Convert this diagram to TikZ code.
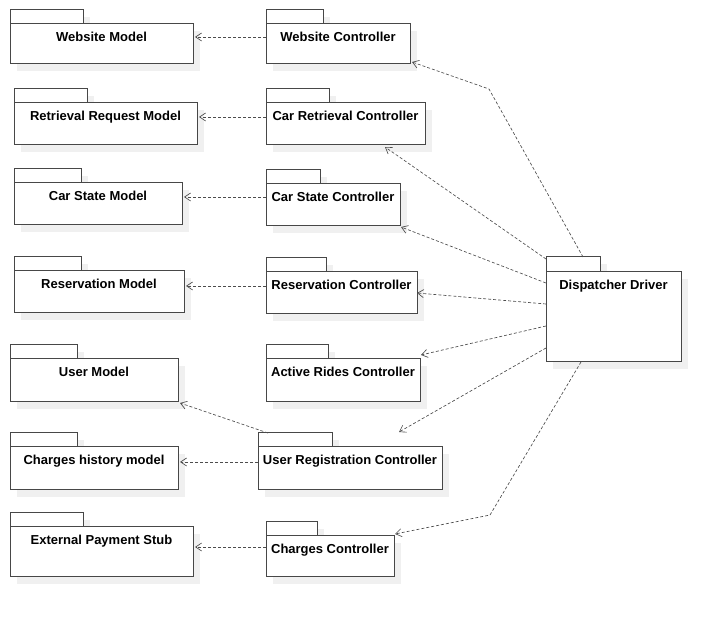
\documentclass[tikz,border=0pt]{standalone}
\usepackage{fontspec}
\setmainfont{Liberation Sans}
\usetikzlibrary{arrows.meta}
\tikzset{
  pkgshadow/.style={fill=black!6},
  pkgbox/.style={draw=black!72, line width=1pt, fill=white, inner sep=0pt, outer sep=0pt},
  pkglabel/.style={anchor=base, inner sep=0pt, font=\fontsize{13}{15}\selectfont\bfseries},
  dep/.style={draw=black!70, line width=0.65pt, dash pattern=on 3pt off 2pt,
     -{Straight Barb[length=6pt,width=8pt,line width=0.65pt]}},
}
% #1 name, #2 left, #3 tab top, #4 tab right, #5 body top, #6 body right, #7 body bottom, #8 text
\newcommand\pkgdraw[8]{%
  \fill[pkgshadow] (#2+7,#3+7) rectangle (#4+7,#5+7);
  \fill[pkgshadow] (#2+7,#5+7) rectangle (#6+7,#7+7);
  \node[pkgbox, minimum width={#4-#2}, minimum height={#5-#3}] (#1-t) at ({(#2+#4)/2},{(#3+#5)/2}) {};
  \node[pkgbox, minimum width={#6-#2}, minimum height={#7-#5}] (#1) at ({(#2+#6)/2},{(#5+#7)/2}) {};
  \node[pkglabel] (#1-l) at ([yshift=-18pt]#1.north) {#8};
}
\begin{document}
\begin{tikzpicture}[x=1pt,y=-1pt]
\useasboundingbox[fill=white] (0,0) rectangle (721,617);
\pkgdraw{wm}{10}{10}{83}{24}{193}{64}{Website Model}
\pkgdraw{wc}{266}{10}{323}{24}{410}{64}{Website Controller}
\pkgdraw{rrm}{14}{89}{87}{103}{197}{145}{Retrieval Request Model}
\pkgdraw{crc}{266}{89}{329}{103}{425}{145}{Car Retrieval Controller}
\pkgdraw{csm}{14}{169}{81}{183}{182}{225}{Car State Model}
\pkgdraw{csc}{266}{170}{320}{184}{400}{226}{Car State Controller}
\pkgdraw{rm}{14}{257}{81}{271}{184}{313}{Reservation Model}
\pkgdraw{rc}{266}{258}{326}{272}{417}{314}{Reservation Controller}
\pkgdraw{dd}{546}{257}{600}{272}{681}{362}{Dispatcher Driver}
\pkgdraw{um}{10}{345}{77}{359}{178}{402}{User Model}
\pkgdraw{arc}{266}{345}{328}{359}{420}{402}{Active Rides Controller}
\pkgdraw{chm}{10}{433}{77}{447}{178}{490}{Charges history model}
\pkgdraw{urc}{258}{433}{332}{447}{442}{490}{User Registration Controller}
\pkgdraw{eps}{10}{513}{83}{527}{193}{577}{External Payment Stub}
\pkgdraw{cc}{266}{522}{317}{536}{394}{577}{Charges Controller}

% controller -> model
\coordinate (s1) at ([yshift=-13pt]wc.north west);
\draw[dep] (s1) -- ([xshift=2pt]s1 -| wm.east);
\coordinate (s2) at ([yshift=-14pt]crc.north west);
\draw[dep] (s2) -- ([xshift=2pt]s2 -| rrm.east);
\coordinate (s3) at ([yshift=-13pt]csc.north west);
\draw[dep] (s3) -- ([xshift=2pt]s3 -| csm.east);
\coordinate (s4) at ([yshift=-14pt]rc.north west);
\draw[dep] (s4) -- ([xshift=2pt]s4 -| rm.east);
\coordinate (s5) at ([yshift=-15pt]urc.north west);
\draw[dep] (s5) -- ([xshift=2pt]s5 -| chm.east);
\coordinate (s6) at ([yshift=-11pt]cc.north west);
\draw[dep] (s6) -- ([xshift=2pt]s6 -| eps.east);
\draw[dep] ([xshift=10pt]urc-t.north west) -- ([shift={(2pt,-1pt)}]um.south east);

% dispatcher -> controllers
\coordinate (b1) at (489,89);
\coordinate (b2) at (490,515);
\draw[dep] ([xshift=-17pt]dd-t.north east) -- (b1) -- ([shift={(2pt,2pt)}]wc.south east);
\draw[dep] ([yshift=-2pt]dd-t.north west) -- ([shift={(-40pt,-2pt)}]crc.south east);
\draw[dep] ([yshift=-11pt]dd.north west) -- ([shift={(1pt,-1pt)}]csc.south east);
\draw[dep] ([yshift=-32pt]dd.north west) -- (rc.east);
\draw[dep] ([yshift=-54pt]dd.north west) -- ([shift={(1pt,4pt)}]arc.north east);
\draw[dep] ([yshift=-76pt]dd.north west) -- ([shift={(67pt,1pt)}]urc-t.north east);
\draw[dep] ([xshift=35pt]dd.south west) -- (b2) -- ([shift={(1pt,2pt)}]cc.north east);
\end{tikzpicture}
\end{document}
